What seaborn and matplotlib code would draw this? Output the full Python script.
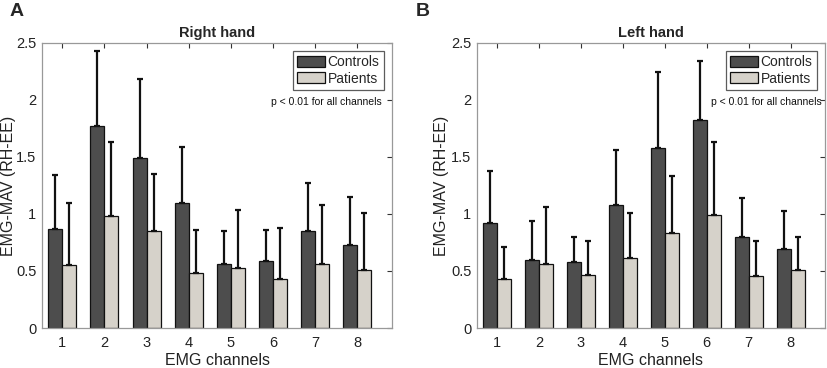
import numpy as np
import pandas as pd
import matplotlib
matplotlib.use("Agg")
import matplotlib.pyplot as plt
import seaborn as sns
from matplotlib.ticker import FuncFormatter

channels = ["1", "2", "3", "4", "5", "6", "7", "8"]
groups = ["Controls", "Patients"]

right_controls = [0.87, 1.77, 1.49, 1.10, 0.56, 0.59, 0.85, 0.73]
right_controls_err = [1.34, 2.43, 2.18, 1.59, 0.85, 0.86, 1.27, 1.15]
right_patients = [0.55, 0.98, 0.85, 0.48, 0.53, 0.43, 0.56, 0.51]
right_patients_err = [1.10, 1.63, 1.35, 0.86, 1.035, 0.875, 1.075, 1.01]

left_controls = [0.92, 0.60, 0.58, 1.075, 1.575, 1.825, 0.795, 0.69]
left_controls_err = [1.375, 0.935, 0.80, 1.56, 2.245, 2.34, 1.14, 1.03]
left_patients = [0.43, 0.56, 0.465, 0.615, 0.83, 0.99, 0.455, 0.505]
left_patients_err = [0.71, 1.06, 0.765, 1.005, 1.335, 1.635, 0.76, 0.80]

colors = {"Controls": "#4d4d4d", "Patients": "#d6d2ca"}

sns.set_theme(style="white")
plt.rcParams["font.family"] = ["Liberation Sans", "DejaVu Sans"]

fig = plt.figure(figsize=(8.27, 3.68), dpi=100)
ax_r = fig.add_axes([42 / 827, 40 / 368, 350 / 827, 285 / 368])
ax_l = fig.add_axes([477 / 827, 40 / 368, 348 / 827, 285 / 368])


def draw(ax, ctrl, ctrl_err, pat, pat_err, title, ylab_x, ptext_x):
    df = pd.DataFrame({
        "channel": channels * 2,
        "group": ["Controls"] * 8 + ["Patients"] * 8,
        "value": ctrl + pat,
    })
    sns.barplot(data=df, x="channel", y="value", hue="group", order=channels,
                hue_order=groups, palette=colors, width=0.667, errorbar=None,
                edgecolor="#111111", linewidth=0.9, saturation=1, ax=ax)
    tops = [ctrl_err, pat_err]
    means = [ctrl, pat]
    for cont, top, mean in zip(ax.containers, tops, means):
        xs = [p.get_x() + p.get_width() / 2 for p in cont.patches]
        up = np.array(top) - np.array(mean)
        ax.errorbar(xs, mean, yerr=[np.zeros_like(up), up], fmt="none",
                    ecolor="#111111", elinewidth=1.6, capsize=2.5, capthick=1.6,
                    zorder=1)
    ax.set_xlim(-0.48, 7.82)
    ax.set_ylim(0, 2.5)
    ax.set_yticks([0, 0.5, 1, 1.5, 2, 2.5])
    ax.yaxis.set_major_formatter(FuncFormatter(lambda v, p: f"{v:g}"))
    ax.tick_params(direction="in", top=True, right=True, length=3.5, width=0.8,
                   colors="#333333", labelsize=10.5, labelcolor="#222222", pad=4)
    ax.tick_params(axis="x", pad=6)
    for s in ax.spines.values():
        s.set_color("#999999")
        s.set_linewidth(0.9)
    ax.set_title(title, fontsize=10.5, fontweight="bold", pad=4)
    ax.set_xlabel("EMG channels", fontsize=11.5, color="#222222")
    ax.set_ylabel("EMG-MAV (RH-EE)", fontsize=11.5, color="#222222")
    ax.xaxis.set_label_coords(0.5, -0.088)
    ax.yaxis.set_label_coords(ylab_x, 0.5)
    leg = ax.legend(loc="upper right", fontsize=10, frameon=True, fancybox=False,
                    edgecolor="#333333", handlelength=2.0, handleheight=0.85,
                    handletextpad=0.2, borderpad=0.3, labelspacing=0.15,
                    borderaxespad=0.6, title=None)
    leg.get_frame().set_linewidth(0.9)
    ax.text(ptext_x, 0.793, "p < 0.01 for all channels", transform=ax.transAxes,
            ha="right", va="center", fontsize=7.5, color="#111111")


draw(ax_r, right_controls, right_controls_err, right_patients, right_patients_err,
     "Right hand", -0.075, 0.971)
draw(ax_l, left_controls, left_controls_err, left_patients, left_patients_err,
     "Left hand", -0.08, 0.99)

fig.text(10 / 827, 1 - 12 / 368, "A", fontsize=14, fontweight="bold", va="center")
fig.text(416 / 827, 1 - 12 / 368, "B", fontsize=14, fontweight="bold", va="center")

fig.savefig("out.png", dpi=100)
